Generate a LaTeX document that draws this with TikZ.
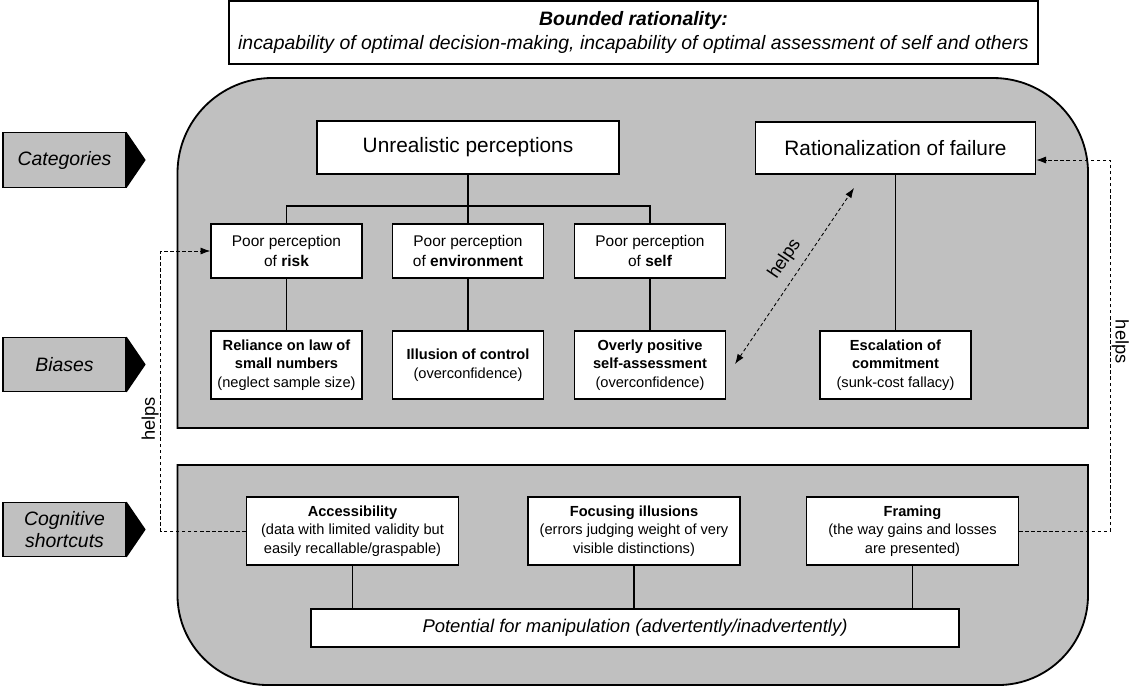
\documentclass[tikz,border=0pt]{standalone}
\usepackage{fontspec}
\setmainfont{Liberation Sans}
\usetikzlibrary{arrows.meta}
\definecolor{panelgray}{RGB}{192,192,192}

\begin{document}
\begin{tikzpicture}[x=0.025cm, y=-0.025cm,
  box/.style={draw, fill=white, line width=0.9pt, inner sep=0pt, align=center},
  percbox/.style={box, minimum width=3.775cm, minimum height=1.35cm,
                  font=\fontsize{11}{14.5}\selectfont},
  biasbox/.style={box, minimum width=3.775cm, minimum height=1.7cm,
                  font=\fontsize{10.4}{13.2}\selectfont},
  shortbox/.style={box, minimum width=5.3cm, minimum height=1.7cm,
                   font=\fontsize{10.4}{13.2}\selectfont},
  catbox/.style={draw, fill=panelgray, line width=0.9pt, inner sep=0pt, align=center,
                 minimum width=3.075cm, minimum height=1.36cm,
                 font=\fontsize{13.8}{16}\selectfont\itshape},
  panel/.style={draw, fill=panelgray, line width=1.3pt},
  link/.style={line width=1.2pt},
  helpsline/.style={dash pattern=on 2.5pt off 1.8pt, line width=0.6pt},
  helpstip/.style={-{Latex[length=7pt,width=5pt]}},
  helpsfont/.style={font=\fontsize{13}{15}\selectfont, inner sep=1pt}
]
\useasboundingbox (0,0) rectangle (1136,686);

\draw[panel] (177.5,428) -- (177.5,173) arc[start angle=180, end angle=90, radius=2.375cm]
  -- (993,78) arc[start angle=90, end angle=0, radius=2.375cm] -- (1088,428) -- cycle;
\draw[panel] (177.5,465) -- (1088,465) -- (1088,595) arc[start angle=0, end angle=-90, radius=2.25cm]
  -- (267.5,685) arc[start angle=270, end angle=180, radius=2.25cm] -- cycle;

\node[box, line width=1.2pt, minimum width=20.225cm, minimum height=1.575cm,
      font=\fontsize{13.8}{17.5}\selectfont] (bounded) at (633.5,32.5)
  {\textbf{\textit{Bounded rationality:}}\\
   \textit{incapability of optimal decision-making, incapability of optimal assessment of self and others}};

\node[catbox] (categories) at (64.5,160) {Categories};
\fill (categories.north east) -- ([xshift=0.475cm]categories.east) -- (categories.south east) -- cycle;
\node[catbox] (biases) at (64.5,364.5) {Biases};
\fill (biases.north east) -- ([xshift=0.475cm]biases.east) -- (biases.south east) -- cycle;
\node[catbox] (shortcuts) at (64.5,529.5) {Cognitive\\shortcuts};
\fill (shortcuts.north east) -- ([xshift=0.475cm]shortcuts.east) -- (shortcuts.south east) -- cycle;

\node[box, minimum width=7.55cm, minimum height=1.325cm,
      font=\fontsize{14.8}{17}\selectfont] (unreal) at (468,147.5) {Unrealistic perceptions};
\node[box, minimum width=7cm, minimum height=1.3cm,
      font=\fontsize{14.8}{17}\selectfont] (rational) at (895.5,148) {Rationalization of failure};

\node[percbox] (risk) at (286.5,251) {Poor perception\\of \textbf{risk}};
\node[percbox] (environ) at (468,251) {Poor perception\\of \textbf{environment}};
\node[percbox] (self) at (650,251) {Poor perception\\of \textbf{self}};

\node[biasbox] (reliance) at (286.5,365)
  {\textbf{Reliance on law of}\\\textbf{small numbers}\\(neglect sample size)};
\node[biasbox] (illusion) at (468,365) {\textbf{Illusion of control}\\(overconfidence)};
\node[biasbox] (overly) at (650,365)
  {\textbf{Overly positive}\\\textbf{self-assessment}\\(overconfidence)};
\node[biasbox] (escalation) at (895.5,365)
  {\textbf{Escalation of}\\\textbf{commitment}\\(sunk-cost fallacy)};

\node[shortbox] (access) at (352.5,531)
  {\textbf{Accessibility}\\(data with limited validity but\\easily recallable/graspable)};
\node[shortbox] (focus) at (634,531)
  {\textbf{Focusing illusions}\\(errors judging weight of very\\visible distinctions)};
\node[shortbox] (framing) at (912.5,531)
  {\textbf{Framing}\\(the way gains and losses\\are presented)};

\node[box, minimum width=16.2cm, minimum height=0.95cm,
      font=\fontsize{13.1}{15}\selectfont\itshape] (potential) at (635,628)
  {Potential for manipulation (advertently/inadvertently)};

\coordinate (fork) at (468,206);
\draw[link] (unreal) -- (fork);
\draw[link] (risk.north) |- (fork) -| (self.north);
\draw[link] (fork) -- (environ.north);
\draw[link] (risk) -- (reliance);
\draw[link] (environ) -- (illusion);
\draw[link] (self) -- (overly);
\draw[link] (rational) -- (escalation);
\draw[link] (access.south) -- (access.south |- potential.north);
\draw[link] (focus.south) -- (focus.south |- potential.north);
\draw[link] (framing.south) -- (framing.south |- potential.north);

\coordinate (lefthelp) at (160.5,251);
\coordinate (righthelp) at (1110,160);
\coordinate (diaglow) at (735,364);
\coordinate (diaghigh) at (854,188);
\draw[helpsline, helpstip] (access.west) -| node[helpsfont, pos=0.7, rotate=90, above] {helps}
  (lefthelp) -- (risk.west);
\draw[helpsline, helpstip] (framing.east) -| node[helpsfont, pos=0.755, rotate=-90, above] {helps}
  (righthelp) -- (rational.east |- righthelp);
\draw[helpsline, {Latex[length=7pt,width=5pt]}-{Latex[length=7pt,width=5pt]}] (diaglow)
  -- node[helpsfont, pos=0.54, sloped, above=5pt] {helps} (diaghigh);
\end{tikzpicture}
\end{document}
